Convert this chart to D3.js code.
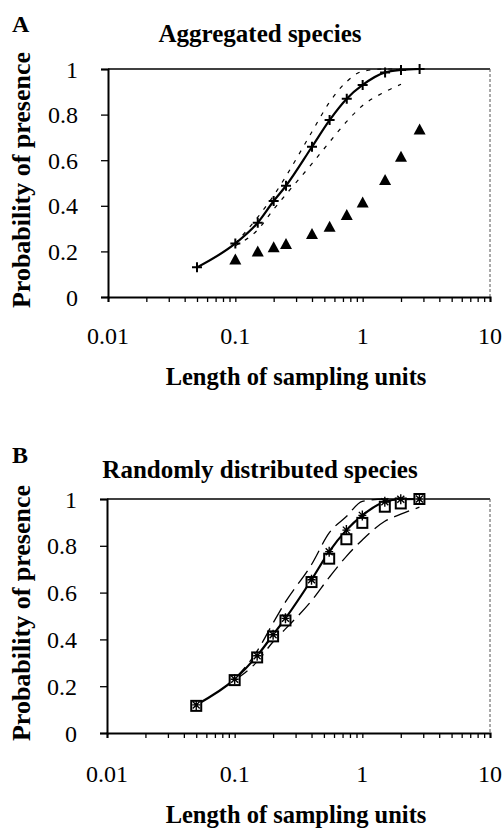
<!DOCTYPE html>
<html><head><meta charset="utf-8">
<script src="https://cdn.jsdelivr.net/npm/d3@7/dist/d3.min.js"></script>
<style>
html,body{margin:0;padding:0;background:#fff;}
svg{display:block;}
text{font-family:"Liberation Serif","Times New Roman",serif;fill:#000;}
</style></head>
<body>
<script>
// ---------- data ----------
const lengths = [0.05, 0.1, 0.15, 0.2, 0.25, 0.4, 0.55, 0.75, 1, 1.5, 2, 2.8];
const ciLengths = [0.1, 0.15, 0.2, 0.25, 0.4, 0.55, 0.75, 1, 1.5, 2];
const ciLengthsB = [0.1, 0.15, 0.2, 0.25, 0.4, 0.55, 0.75, 1, 1.5, 2, 2.8];
const obsLengthsA = [0.1, 0.15, 0.2, 0.25, 0.4, 0.55, 0.75, 1, 1.5, 2, 2.8];

// Panel A: aggregated species
const aggModel    = [0.13, 0.235, 0.326, 0.421, 0.488, 0.659, 0.776, 0.87, 0.93, 0.985, 0.996, 1.0];
const aggObserved = [0.165, 0.2, 0.218, 0.232, 0.276, 0.308, 0.36, 0.415, 0.513, 0.615, 0.735];
const aggUpper    = [0.235, 0.35, 0.445, 0.53, 0.725, 0.855, 0.945, 0.99, 1.0, 1.0];
const aggLower    = [0.225, 0.295, 0.385, 0.45, 0.585, 0.68, 0.77, 0.84, 0.9, 0.933];

// Panel B: randomly distributed species
const randModel    = [0.12, 0.23, 0.33, 0.42, 0.49, 0.655, 0.775, 0.867, 0.93, 0.988, 0.999, 1.0];
const randObserved = [0.116, 0.226, 0.323, 0.413, 0.481, 0.645, 0.745, 0.828, 0.898, 0.967, 0.981, 1.0];
const randUpper    = [0.23, 0.35, 0.47, 0.56, 0.72, 0.855, 0.925, 0.99, 1.0, 1.0, 1.0];
const randLower    = [0.225, 0.305, 0.39, 0.445, 0.565, 0.665, 0.755, 0.825, 0.905, 0.935, 0.965];

const xTickValues = [0.01, 0.1, 1, 10];
const xTickLabels = ["0.01", "0.1", "1", "10"];
const yTickValues = [0, 0.2, 0.4, 0.6, 0.8, 1];
const yTickLabels = ["0", "0.2", "0.4", "0.6", "0.8", "1"];

const panelLetters = ["A", "B"];
const panelTitles = ["Aggregated species", "Randomly distributed species"];
const xTitle = "Length of sampling units";
const yTitle = "Probability of presence";

// ---------- drawing ----------
const W = 504, H = 829;
const svg = d3.select("body").append("svg").attr("width", W).attr("height", H);

function zip(xs, ys){ return xs.map((x,i)=>({x:x, y:ys[i]})); }

function drawPanel(cfg){
  const x = d3.scaleLog().domain([0.01, 10]).range([cfg.left, cfg.right]);
  const y = d3.scaleLinear().domain([0, 1]).range([cfg.bottom, cfg.top]);
  const g = svg.append("g");

  // frame (top and right)
  g.append("line").attr("x1", cfg.left).attr("x2", cfg.right).attr("y1", cfg.top).attr("y2", cfg.top)
    .attr("stroke", "#000").attr("stroke-width", 1.5);
  g.append("line").attr("x1", cfg.right).attr("x2", cfg.right).attr("y1", cfg.top).attr("y2", cfg.bottom)
    .attr("stroke", "#555").attr("stroke-width", 1).attr("stroke-dasharray", "3,2");

  // x axis
  const minor = [];
  for (let e = -2; e < 1; e++) for (let k = 1; k <= 9; k++) minor.push(k * Math.pow(10, e));
  minor.push(10);
  const xAxis = d3.axisBottom(x).tickValues(minor).tickSize(5).tickFormat("");
  const gx = g.append("g").attr("transform", `translate(0,${cfg.bottom})`).call(xAxis);
  gx.select(".domain").attr("stroke", "#000").attr("stroke-width", 2);
  gx.selectAll(".tick line").attr("stroke", "#000").attr("stroke-width", 1.3);
  g.append("g").selectAll("text").data(xTickValues).join("text")
    .attr("x", d => x(d)).attr("y", cfg.bottom + cfg.xLabOff)
    .attr("text-anchor", "middle").attr("font-size", 24)
    .text((d,i) => xTickLabels[i]);

  // y axis
  const yAxis = d3.axisLeft(y).tickValues(yTickValues).tickSize(7).tickFormat("");
  const gy = g.append("g").attr("transform", `translate(${cfg.left},0)`).call(yAxis);
  gy.select(".domain").attr("stroke", "#000").attr("stroke-width", 2);
  gy.selectAll(".tick line").attr("stroke", "#000").attr("stroke-width", 1.3);
  g.append("g").selectAll("text").data(yTickValues).join("text")
    .attr("x", cfg.left - 30).attr("y", d => y(d) + 8.5)
    .attr("text-anchor", "end").attr("font-size", 24)
    .text((d,i) => yTickLabels[i]);

  // titles
  g.append("text").attr("x", 12).attr("y", cfg.letterY).attr("font-size", 24).attr("font-weight", "bold").text(cfg.letter);
  g.append("text").attr("x", 260).attr("y", cfg.titleY).attr("text-anchor", "middle").attr("font-size", 25)
    .attr("font-weight", "bold").text(cfg.title);
  g.append("text").attr("x", 296).attr("y", cfg.bottom + cfg.xTitleOff).attr("text-anchor", "middle")
    .attr("font-size", 24.5).attr("font-weight", "bold").text(xTitle);
  const cy = (cfg.top + cfg.bottom) / 2 - 3;
  g.append("text").attr("transform", `translate(30,${cy}) rotate(-90)`).attr("text-anchor", "middle")
    .attr("font-size", 26).attr("font-weight", "bold").text(yTitle);

  const line = d3.line().x(d => x(d.x)).y(d => y(d.y)).curve(d3.curveMonotoneX);

  // dashed bounds
  cfg.bounds.forEach(b => {
    g.append("path").datum(b).attr("d", line).attr("fill", "none").attr("stroke", "#000")
      .attr("stroke-width", cfg.dashW).attr("stroke-dasharray", cfg.dash);
  });
  // model line
  g.append("path").datum(cfg.model).attr("d", line).attr("fill", "none").attr("stroke", "#000").attr("stroke-width", 2.2);

  // observed
  if (cfg.obsType === "triangle") {
    g.append("g").selectAll("path").data(cfg.obs).join("path")
      .attr("transform", d => `translate(${x(d.x)},${y(d.y)})`)
      .attr("d", "M0,-6 L6,5 L-6,5 Z").attr("fill", "#000");
  } else {
    g.append("g").selectAll("rect").data(cfg.obs).join("rect")
      .attr("x", d => x(d.x) - 5).attr("y", d => y(d.y) - 5).attr("width", 10).attr("height", 10)
      .attr("fill", "#fff").attr("stroke", "#000").attr("stroke-width", 2);
  }
  // model markers
  g.append("g").selectAll("path").data(cfg.model).join("path")
    .attr("transform", d => `translate(${x(d.x)},${y(d.y)})`)
    .attr("d", cfg.markerPath).attr("fill", "none").attr("stroke", "#000").attr("stroke-width", cfg.markerW);
}

drawPanel({
  left: 108, right: 490, top: 69, bottom: 297,
  xLabOff: 47, xTitleOff: 88, letterY: 32, titleY: 42,
  letter: panelLetters[0], title: panelTitles[0],
  model: zip(lengths, aggModel),
  obs: zip(obsLengthsA, aggObserved), obsType: "triangle",
  bounds: [zip(ciLengths, aggUpper), zip(ciLengths, aggLower)],
  dash: "4,7", dashW: 1.2,
  markerPath: "M-5,0 L5,0 M0,-5 L0,5", markerW: 2
});

drawPanel({
  left: 107, right: 490, top: 499, bottom: 733,
  xLabOff: 49, xTitleOff: 90, letterY: 463, titleY: 478,
  letter: panelLetters[1], title: panelTitles[1],
  model: zip(lengths, randModel),
  obs: zip(lengths, randObserved), obsType: "square",
  bounds: [zip(ciLengthsB, randUpper), zip(ciLengthsB, randLower)],
  dash: "16,7", dashW: 1.3,
  markerPath: "M-4,0 L4,0 M0,-5 L0,5 M-3.5,-3.5 L3.5,3.5 M-3.5,3.5 L3.5,-3.5", markerW: 1.4
});
</script>
</body></html>
